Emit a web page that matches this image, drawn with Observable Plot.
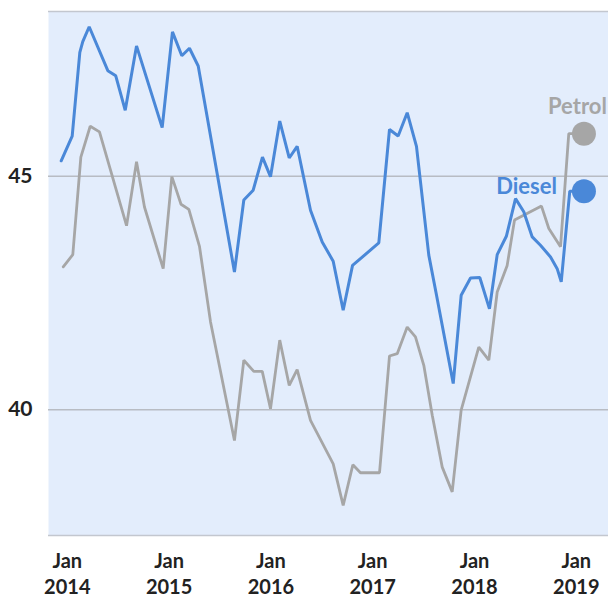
<!DOCTYPE html>
<html><head><meta charset="utf-8">
<script src="https://cdn.jsdelivr.net/npm/d3@7"></script>
<script src="https://cdn.jsdelivr.net/npm/@observablehq/plot@0.6"></script>
<style>body{margin:0;background:#fff;} #chart svg{display:block;}</style>
</head><body><div id="chart"></div>
<script>
// Decimal-year positions and values
const dieselYears = [2013.940, 2014.048, 2014.123, 2014.152, 2014.215, 2014.398, 2014.476, 2014.569, 2014.680, 2014.932,
  2015.033, 2015.125, 2015.200, 2015.286, 2015.642, 2015.734, 2015.826, 2015.917, 2015.996, 2016.087,
  2016.180, 2016.258, 2016.389, 2016.504, 2016.612, 2016.710, 2016.802, 2017.060, 2017.165, 2017.250,
  2017.339, 2017.430, 2017.551, 2017.627, 2017.791, 2017.869, 2017.961, 2018.052, 2018.147, 2018.223,
  2018.314, 2018.403, 2018.484, 2018.567, 2018.648, 2018.747, 2018.812, 2018.852, 2018.936, 2019.075];
const dieselValues = [45.33, 45.86, 47.65, 47.88, 48.20, 47.26, 47.15, 46.41, 47.79, 46.04,
  48.09, 47.58, 47.74, 47.36, 42.95, 44.49, 44.70, 45.41, 44.99, 46.18,
  45.39, 45.64, 44.27, 43.59, 43.18, 42.13, 43.09, 43.57, 46.00, 45.86,
  46.36, 45.64, 43.31, 42.45, 40.56, 42.45, 42.82, 42.83, 42.16, 43.32,
  43.72, 44.52, 44.24, 43.70, 43.52, 43.27, 43.02, 42.74, 44.68, 44.68];
const petrolYears = [2013.960, 2014.054, 2014.133, 2014.225, 2014.316, 2014.582, 2014.680, 2014.758, 2014.942, 2015.027,
  2015.117, 2015.194, 2015.299, 2015.407, 2015.642, 2015.734, 2015.832, 2015.915, 2015.996, 2016.087,
  2016.180, 2016.258, 2016.389, 2016.612, 2016.710, 2016.805, 2016.880, 2017.067, 2017.165, 2017.241,
  2017.339, 2017.420, 2017.502, 2017.585, 2017.683, 2017.781, 2017.869, 2018.042, 2018.141, 2018.223,
  2018.321, 2018.393, 2018.658, 2018.730, 2018.845, 2018.926, 2019.075];
const petrolValues = [43.06, 43.32, 45.41, 46.07, 45.95, 43.94, 45.31, 44.34, 43.02, 44.99,
  44.40, 44.29, 43.49, 41.88, 39.34, 41.06, 40.82, 40.82, 40.02, 41.49,
  40.52, 40.86, 39.77, 38.84, 37.95, 38.82, 38.65, 38.65, 41.15, 41.20,
  41.77, 41.56, 40.95, 39.88, 38.77, 38.24, 39.99, 41.34, 41.06, 42.52,
  43.09, 44.06, 44.36, 43.88, 43.49, 45.91, 45.91];
const xTickYears = [2014, 2015, 2016, 2017, 2018, 2019];
const xTickLabels = ["Jan\n2014", "Jan\n2015", "Jan\n2016", "Jan\n2017", "Jan\n2018", "Jan\n2019"];
const yTicks = [40, 45];
const seriesNames = ["Petrol", "Diesel"];

const colors = {Petrol: "#a6a6a6", Diesel: "#4a88d8"};
const diesel = dieselYears.map((t, i) => ({t, v: dieselValues[i], s: "Diesel"}));
const petrol = petrolYears.map((t, i) => ({t, v: petrolValues[i], s: "Petrol"}));
const lastPoints = [petrol[petrol.length - 1], diesel[diesel.length - 1]];

const yDomain = [37.306, 48.527];

const chart = Plot.plot({
  width: 608, height: 599,
  marginLeft: 48, marginRight: 0, marginTop: 11, marginBottom: 64,
  style: {fontFamily: "Lato, 'DejaVu Sans', sans-serif", background: "#fff", overflow: "visible"},
  x: {type: "linear", domain: [2013.8153, 2019.3163]},
  y: {domain: yDomain},
  marks: [
    Plot.frame({fill: "#e3edfc", stroke: null}),
    Plot.ruleY(yTicks, {stroke: "#b8bcc3", strokeWidth: 1.4}),
    Plot.ruleY(yDomain, {stroke: "#c3c7cf", strokeWidth: 1.6}),
    Plot.axisY({ticks: yTicks, tickSize: 0, tickPadding: 16, fontSize: 21, fontWeight: "bold", fill: "#222", label: null}),
    Plot.axisX({ticks: xTickYears, tickSize: 0, tickPadding: 14, tickFormat: (d) => xTickLabels[xTickYears.indexOf(d)],
      fontSize: 20, fontWeight: "bold", fill: "#222", lineHeight: 1.3, label: null}),
    Plot.line(petrol, {x: "t", y: "v", stroke: colors.Petrol, strokeWidth: 2.8, strokeLinejoin: "miter"}),
    Plot.line(diesel, {x: "t", y: "v", stroke: colors.Diesel, strokeWidth: 3, strokeLinejoin: "miter"}),
    Plot.dot(lastPoints, {x: "t", y: "v", r: 12, fill: (d) => colors[d.s], stroke: null}),
    Plot.text([lastPoints[0]], {x: "t", y: "v", text: "s", textAnchor: "end", dx: 23, dy: -27,
      fill: colors.Petrol, fontSize: 22, fontWeight: "bold"}),
    Plot.text([lastPoints[1]], {x: "t", y: "v", text: "s", textAnchor: "end", dx: -27, dy: -4,
      fill: colors.Diesel, fontSize: 22, fontWeight: "bold"})
  ]
});
document.getElementById("chart").appendChild(chart);
</script>
</body></html>
